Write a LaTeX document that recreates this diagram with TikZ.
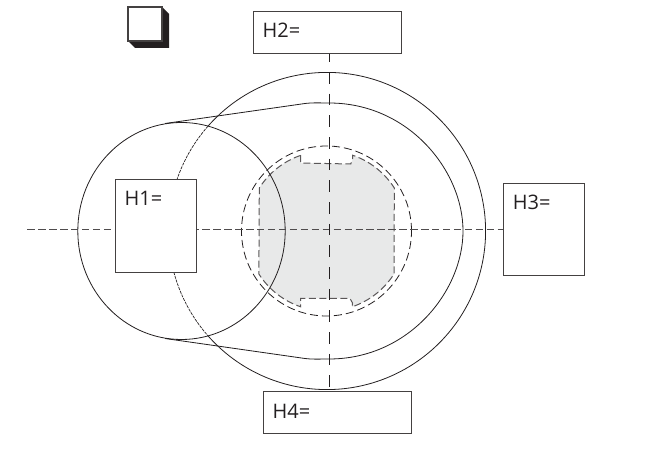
\documentclass[tikz,border=0pt]{standalone}
\usepackage{fontspec}
\setmainfont{Open Sans}
\usetikzlibrary{positioning}
\definecolor{inkc}{HTML}{231F20}
\definecolor{shadec}{HTML}{E8E9E9}
\tikzset{
  lineS/.style={draw=inkc, line width=0.8pt},
  lineF/.style={draw=inkc, line width=0.7pt, dash pattern=on 3pt off 1pt},
  lineD/.style={draw=inkc, line width=0.8pt, dash pattern=on 8pt off 4pt},
  lineP/.style={draw=inkc!75, line width=1pt, dash pattern=on 7pt off 3.5pt},
  axisH/.style={draw=inkc!80, line width=0.8pt, dash pattern=on 7.4pt off 3.54pt},
  axisV/.style={draw=inkc, line width=0.8pt, dash pattern=on 11.67pt off 10pt, dash phase=3.4pt},
  hbox/.style={draw=inkc!85, line width=0.9pt, fill=white, inner sep=0pt, minimum width=#1},
  hlabel/.style={anchor=north west, inner sep=0pt, text=inkc, font=\fontsize{20}{20}\selectfont}
}
\begin{document}
\begin{tikzpicture}[x=1pt,y=1pt]
\useasboundingbox (0,0) rectangle (652,457);

\coordinate (bigC) at (327,226);
\coordinate (midC) at (326.5,226);
\coordinate (smallC) at (181.5,226);
\coordinate (axisL) at (27.3,227.2);
\coordinate (axisT) at (329,404);
\coordinate (axisB) at (329,65.3);

% shaded part
\path[fill=shadec, lineP] (300.7,301.8) -- (300.7,294) -- (350.7,293) -- (352.5,297) -- (352.5,301.8)
  arc[start angle=71.3, end angle=32.5, radius=80] -- (394,183)
  arc[start angle=-32.5, end angle=-71.3, radius=80] -- (352.5,154) -- (350,158.5) -- (300.7,158.5) -- (300.7,150.2)
  arc[start angle=-108.7, end angle=-147.5, radius=80] -- (259.3,269)
  arc[start angle=147.5, end angle=108.7, radius=80] -- cycle;

% circles
\draw[lineD] (midC) circle[radius=85];
\draw[lineS] (smallC) ellipse[x radius=103.7, y radius=108.5];
\draw[lineS] ([shift=(138.6:158.6)]bigC) arc[start angle=138.6, end angle=-138.6, radius=158.6];
\draw[lineF] ([shift=(138.6:158.6)]bigC) arc[start angle=138.6, end angle=221.4, radius=158.6];

% contour
\draw[lineS] (165,333.5) -- (305,353.5) .. controls (313,354.5) and (321,354) .. (329,354)
  .. controls (409,354) and (463,286) .. (463,226)
  .. controls (463,166) and (409,98) .. (329,98)
  .. controls (321,98) and (313,97.5) .. (305,98.5) -- (165,118.5);

% boxes
\node[hbox=147.7pt, minimum height=42.3pt] (h2) at (327.2,424.8) {};
\node[hbox=81pt, minimum height=92pt] (h3) at (544.2,228) {};
\node[hbox=147.7pt, minimum height=42.3pt] (h4) at (337.2,44.2) {};

\draw[axisH] (axisL) -- (h3.west |- axisL);
\draw[axisV] (h2.south -| axisT) -- (h4.north -| axisB);

\node[hbox=81.4pt, minimum height=93pt] (h1) at (156,231.2) {};

\node[hlabel] (h1text) at ([xshift=9.5pt,yshift=-12.5pt]h1.north west) {H1=};
\node[hlabel] (h2text) at ([xshift=9.5pt,yshift=-12.5pt]h2.north west) {H2=};
\node[hlabel] (h3text) at ([xshift=9.5pt,yshift=-12.5pt]h3.north west) {H3=};
\node[hlabel] (h4text) at ([xshift=9.5pt,yshift=-12.5pt]h4.north west) {H4=};

% icon
\fill[inkc] (162,450) -- (169,443) -- (169,409) -- (135,409) -- (128,416) -- cycle;
\draw[draw=inkc!85, line width=1.6pt, fill=white] (128,416) rectangle (162,450);
\end{tikzpicture}
\end{document}
